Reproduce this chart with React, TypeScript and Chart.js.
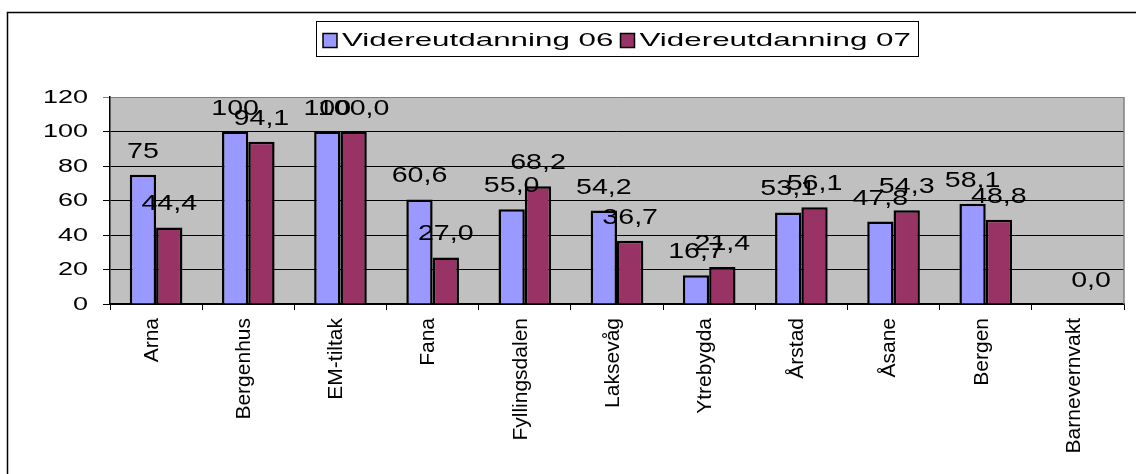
import React, { useEffect, useRef } from 'react';
import { Chart, registerables } from 'chart.js';

Chart.register(...registerables);

const categories = ['Arna', 'Bergenhus', 'EM-tiltak', 'Fana', 'Fyllingsdalen', 'Laksevåg', 'Ytrebygda', 'Årstad', 'Åsane', 'Bergen', 'Barnevernvakt'];
const seriesNames = ['Videreutdanning 06', 'Videreutdanning 07'];
const series06: (number | null)[] = [75, 100, 100, 60.6, 55.0, 54.2, 16.7, 53.1, 47.8, 58.1, null];
const series07: (number | null)[] = [44.4, 94.1, 100.0, 27.0, 68.2, 36.7, 21.4, 56.1, 54.3, 48.8, 0.0];
const decimals06 = [0, 0, 0, 1, 1, 1, 1, 1, 1, 1, 1];
const decimals07 = [1, 1, 1, 1, 1, 1, 1, 1, 1, 1, 1];
const yTickValues = [0, 20, 40, 60, 80, 100, 120];

const colors = ['#9999FF', '#993366'];
const FONT = 'Arial, "Liberation Sans", sans-serif';

function fmt(v: number, d: number) {
  return v.toFixed(d).replace('.', ',');
}

function stretchedText(ctx: CanvasRenderingContext2D, text: string, x: number, y: number, sx: number, align: CanvasTextAlign, baseline: CanvasTextBaseline) {
  ctx.save();
  ctx.translate(x, y);
  ctx.scale(sx, 1);
  ctx.textAlign = align;
  ctx.textBaseline = baseline;
  ctx.fillText(text, 0, 0);
  ctx.restore();
}

const decorPlugin = {
  id: 'decor',
  beforeDraw(chart: any) {
    const { ctx, chartArea: a } = chart;
    ctx.save();
    ctx.fillStyle = '#FFFFFF';
    ctx.fillRect(0, 0, chart.width, chart.height);
    // outer frame
    ctx.strokeStyle = '#000';
    ctx.lineWidth = 1.5;
    ctx.beginPath();
    ctx.moveTo(7.5, chart.height + 5);
    ctx.lineTo(7.5, 12.5);
    ctx.lineTo(chart.width + 5, 12.5);
    ctx.stroke();
    // plot background
    ctx.fillStyle = '#C0C0C0';
    ctx.fillRect(a.left, a.top, a.right - a.left, a.bottom - a.top);
    ctx.restore();
  },
  afterDatasetsDraw(chart: any) {
    const { ctx, chartArea: a } = chart;
    ctx.save();
    // right plot border
    ctx.strokeStyle = '#808080';
    ctx.lineWidth = 1.5;
    ctx.beginPath();
    ctx.moveTo(a.right, a.top);
    ctx.lineTo(a.right, a.bottom);
    ctx.stroke();

    // data labels
    ctx.fillStyle = '#000';
    ctx.font = `22px ${FONT}`;
    const decs = [decimals06, decimals07];
    chart.data.datasets.forEach((ds: any, i: number) => {
      const meta = chart.getDatasetMeta(i);
      meta.data.forEach((bar: any, j: number) => {
        const v = ds.data[j];
        if (v === null || v === undefined) return;
        stretchedText(ctx, fmt(v, decs[i][j]), bar.x, bar.y - 17, 1.3, 'center', 'alphabetic');
      });
    });

    // y tick labels
    const ys = chart.scales.y;
    ctx.font = `18px ${FONT}`;
    yTickValues.forEach((v) => {
      stretchedText(ctx, String(v), 88, ys.getPixelForValue(v) + 1, 1.5, 'right', 'middle');
    });

    // legend
    const lx = 316, ly = 21, lw = 602, lh = 35;
    ctx.fillStyle = '#FFFFFF';
    ctx.fillRect(lx, ly, lw, lh);
    ctx.strokeStyle = '#000';
    ctx.lineWidth = 1;
    ctx.strokeRect(lx + 0.5, ly + 0.5, lw, lh);
    ctx.font = `19px ${FONT}`;
    const pad = 7, sq = 14, gapSq = 5, gapItem = 7;
    const textSpace = (lw - 2 * pad - 2 * (sq + gapSq) - gapItem) / 2;
    let x = lx + pad;
    const cy = ly + lh / 2 + 2;
    seriesNames.forEach((name, i) => {
      const sx = textSpace / ctx.measureText(name).width;
      ctx.fillStyle = colors[i];
      ctx.fillRect(x, cy - 7, sq, sq);
      ctx.strokeStyle = '#000';
      ctx.lineWidth = 1.5;
      ctx.strokeRect(x, cy - 7, sq, sq);
      ctx.fillStyle = '#000';
      const tx = x + sq + gapSq;
      stretchedText(ctx, name, tx, cy, sx, 'left', 'middle');
      x = tx + textSpace + gapItem;
    });
    ctx.restore();
  },
};

export default function App() {
  const ref = useRef<HTMLCanvasElement | null>(null);
  useEffect(() => {
    document.body.style.margin = '0';
    if (!ref.current) return;
    const chart = new Chart(ref.current, {
      type: 'bar',
      data: {
        labels: categories,
        datasets: [
          { label: seriesNames[0], data: series06, backgroundColor: colors[0], borderColor: '#000', borderWidth: 2.5 },
          { label: seriesNames[1], data: series07, backgroundColor: colors[1], borderColor: '#000', borderWidth: 2.5 },
        ],
      },
      options: {
        responsive: false,
        animation: false,
        devicePixelRatio: 1,
        layout: { padding: { top: 97, right: 12, left: 0, bottom: 0 } },
        datasets: { bar: { categoryPercentage: 0.571, barPercentage: 1 } },
        plugins: { legend: { display: false }, tooltip: { enabled: false }, title: { display: false } },
        scales: {
          x: {
            grid: { offset: true, drawOnChartArea: false, drawTicks: true, tickLength: 6, color: '#000', lineWidth: 1 },
            border: { color: '#000', width: 1.5 },
            ticks: {
              autoSkip: false,
              maxRotation: 90,
              minRotation: 90,
              padding: 8,
              labelOffset: -4,
              color: '#000',
              font: { family: FONT, size: 21 },
            },
            afterFit: (s: any) => { s.height = 170; },
          },
          y: {
            min: 0,
            max: 120,
            ticks: { stepSize: 20, display: false },
            grid: {
              color: (c: any) => (c.tick && c.tick.value === 120 ? '#808080' : '#000'),
              lineWidth: 1,
              tickLength: 7,
              drawTicks: true,
            },
            border: { color: '#000', width: 1.5 },
            afterFit: (s: any) => { s.width = 110; },
          },
        },
      },
      plugins: [decorPlugin],
    });
    return () => chart.destroy();
  }, []);
  return <canvas ref={ref} width={1136} height={474} style={{ display: 'block', width: 1136, height: 474 }} />;
}
